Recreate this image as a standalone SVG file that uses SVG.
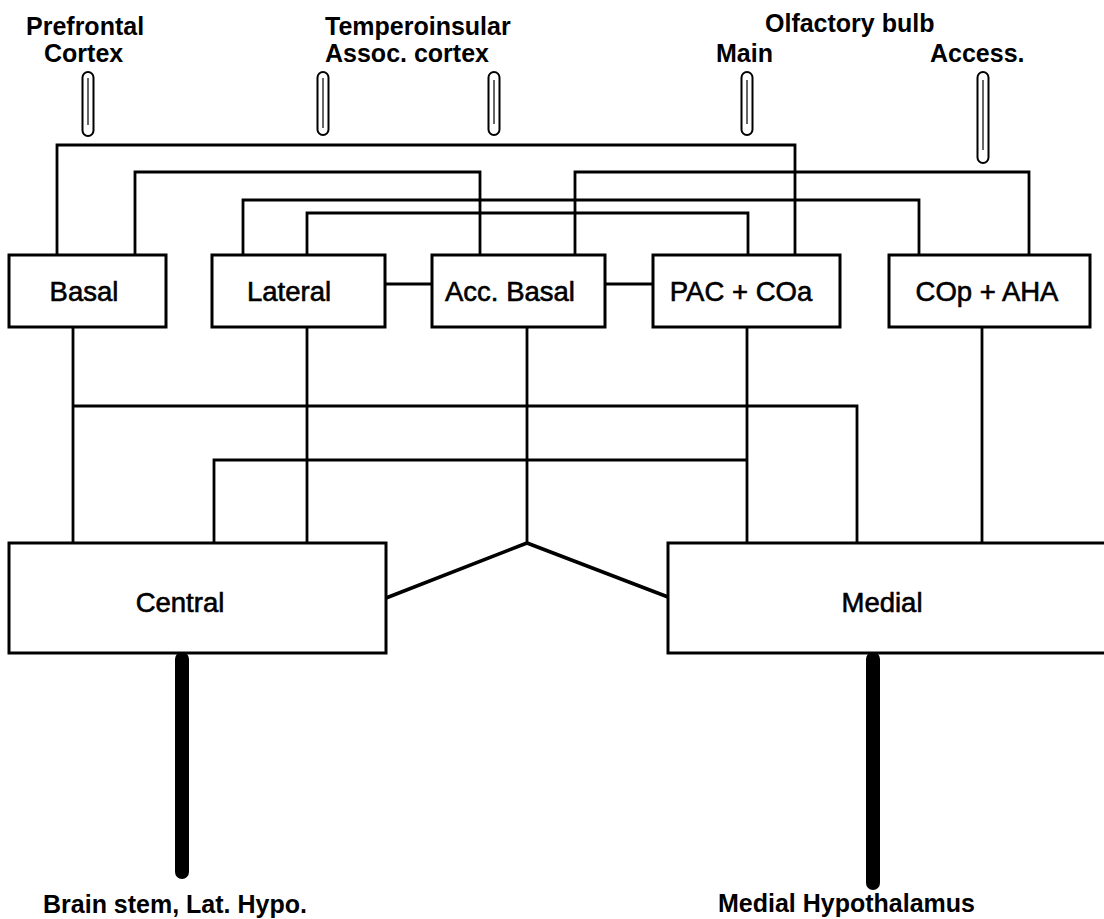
<svg xmlns="http://www.w3.org/2000/svg" width="1104" height="919" viewBox="0 0 1104 919">
<style>
.bg{fill:#fff}
.box{fill:#fff;stroke:#000;stroke-width:3}
.lbl{font-family:"Liberation Sans",Arial,sans-serif;font-size:27.5px;fill:#000;stroke:#000;stroke-width:0.6;text-anchor:middle}
.ext{font-family:"Liberation Sans",Arial,sans-serif;font-size:25px;font-weight:bold;fill:#000}
.con{fill:none;stroke:#000;stroke-width:2.8;stroke-linejoin:miter}
.diag{fill:none;stroke:#000;stroke-width:3.5}
.tract{fill:#fff;stroke:#000;stroke-width:2}
.streak{stroke:#333;stroke-width:1.5}
.btract{fill:#000;stroke:#000;stroke-width:2}
</style>
<rect class="bg" x="0" y="0" width="1104" height="919"/>

<g id="connectors">
  <path class="con" d="M57,255 V145 H795 V255"/>
  <path class="con" d="M135,255 V172 H480 V255"/>
  <path class="con" d="M575,255 V172 H1029 V255"/>
  <path class="con" d="M243,255 V200 H919 V255"/>
  <path class="con" d="M307,255 V213 H748 V255"/>
  <path class="con" d="M385,284 H432"/>
  <path class="con" d="M605,284 H653"/>
  <path class="con" d="M73,327 V543"/>
  <path class="con" d="M307,327 V543"/>
  <path class="con" d="M527,327 V543"/>
  <path class="diag" d="M386,598 L527,543 L668,597"/>
  <path class="con" d="M747,327 V543"/>
  <path class="con" d="M982,327 V543"/>
  <path class="con" d="M73,406 H857 V543"/>
  <path class="con" d="M747,460 H214 V543"/>
</g>

<g id="prefrontal">
  <text class="ext" x="26" y="35">Prefrontal</text>
  <text class="ext" x="44" y="62">Cortex</text>
  <rect class="tract" x="82.5" y="72" width="11" height="64" rx="5.5"/>
  <line class="streak" x1="88" y1="78" x2="88" y2="125"/>
</g>
<g id="temperoinsular">
  <text class="ext" x="325" y="35">Temperoinsular</text>
  <text class="ext" x="325" y="62">Assoc. cortex</text>
  <rect class="tract" x="317.5" y="72" width="11" height="63" rx="5.5"/>
  <line class="streak" x1="323" y1="78" x2="323" y2="128"/>
  <rect class="tract" x="488.5" y="72" width="11" height="63" rx="5.5"/>
  <line class="streak" x1="494" y1="80" x2="494" y2="124"/>
</g>
<g id="olfactory">
  <text class="ext" x="765" y="32">Olfactory bulb</text>
  <text class="ext" x="716" y="62">Main</text>
  <text class="ext" x="930" y="62">Access.</text>
  <rect class="tract" x="741.5" y="72" width="11" height="63" rx="5.5"/>
  <line class="streak" x1="747" y1="80" x2="747" y2="124"/>
  <rect class="tract" x="977.5" y="72" width="11" height="91" rx="5.5"/>
  <line class="streak" x1="983" y1="80" x2="983" y2="150"/>
</g>

<g id="basal">
  <rect class="box" x="9" y="255" width="157" height="72"/>
  <text class="lbl" x="84" y="301">Basal</text>
</g>
<g id="lateral">
  <rect class="box" x="212" y="255" width="173" height="72"/>
  <text class="lbl" x="289" y="301">Lateral</text>
</g>
<g id="accbasal">
  <rect class="box" x="432" y="255" width="173" height="72"/>
  <text class="lbl" x="510" y="301">Acc. Basal</text>
</g>
<g id="pac">
  <rect class="box" x="653" y="255" width="187" height="72"/>
  <text class="lbl" x="741" y="301">PAC + COa</text>
</g>
<g id="cop">
  <rect class="box" x="889" y="255" width="201" height="72"/>
  <text class="lbl" x="987" y="301">COp + AHA</text>
</g>

<g id="central">
  <rect class="box" x="9" y="543" width="377" height="110"/>
  <text class="lbl" x="180" y="612">Central</text>
  <rect class="btract" x="176" y="653" width="12" height="225" rx="6"/>
  <text class="ext" x="43" y="913">Brain stem, Lat. Hypo.</text>
</g>
<g id="medial">
  <rect class="box" x="668" y="543" width="445" height="110"/>
  <text class="lbl" x="882" y="612">Medial</text>
  <rect class="btract" x="867" y="653" width="12" height="236" rx="6"/>
  <text class="ext" x="718" y="912">Medial Hypothalamus</text>
</g>
</svg>
